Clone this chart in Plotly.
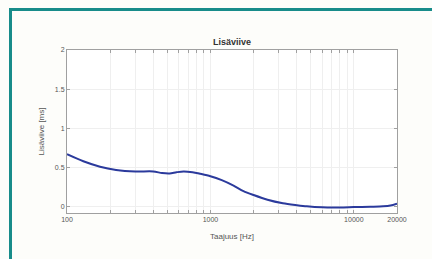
import plotly.graph_objects as go
import math

freq_hz = [100, 130, 170, 220, 300, 400, 460, 520, 580, 650, 750, 850, 1000, 1200,
           1450, 1700, 2000, 2500, 3200, 4000, 4700, 6000, 8000, 10000, 13000, 16000,
           18000, 20000]
delay_ms = [0.67, 0.58, 0.51, 0.47, 0.45, 0.45, 0.43, 0.425, 0.44, 0.45, 0.44, 0.42,
            0.39, 0.34, 0.27, 0.20, 0.15, 0.09, 0.045, 0.02, 0.005, -0.008, -0.01,
            -0.005, 0.0, 0.005, 0.015, 0.04]

x_tick_vals = [100, 200, 300, 400, 500, 600, 700, 800, 900, 1000, 2000, 3000, 4000,
               5000, 6000, 7000, 8000, 9000, 10000, 20000]
x_tick_text = ["100", "", "", "", "", "", "", "", "", "1000", "", "", "", "", "", "",
               "", "", "10000", "20000"]
y_tick_vals = [0, 0.5, 1, 1.5, 2]
y_tick_text = ["0", "0.5", "1", "1.5", "2"]

L, R, T, B = 67, 397, 50, 213
W, H = 432, 259

axis_common = dict(showline=True, linecolor="#a0a0a0", linewidth=1, mirror="ticks",
                   ticks="inside", ticklen=3, tickcolor="#a0a0a0",
                   showgrid=True, gridcolor="#efefef", gridwidth=1, zeroline=False,
                   tickfont=dict(family="Liberation Sans", size=7, color="#555"))

fig = go.Figure()
fig.add_trace(go.Scatter(x=freq_hz, y=delay_ms, mode="lines",
                         line=dict(color="#2b3a9c", width=2, shape="spline", smoothing=0.8),
                         showlegend=False))

pw, ph = R - L, B - T
fig.update_layout(
    width=W, height=H,
    margin=dict(l=L, r=W - R, t=T, b=H - B),
    paper_bgcolor="#fdfdfa", plot_bgcolor="#ffffff",
    title=dict(text="<b>Lisäviive</b>", x=(L + R) / 2 / W, xanchor="center",
               y=1 - 42 / H, yanchor="middle",
               font=dict(family="Liberation Sans", size=9, color="#333")),
    xaxis=dict(type="log", range=[2, math.log10(20000)], tickvals=x_tick_vals,
               ticktext=x_tick_text,
               title=dict(text="Taajuus [Hz]", standoff=10,
                          font=dict(family="Liberation Sans", size=8, color="#555")),
               **axis_common),
    yaxis=dict(range=[-0.08, 2], tickvals=y_tick_vals, ticktext=y_tick_text,
               title=dict(text="Lisäviive [ms]", standoff=9,
                          font=dict(family="Liberation Sans", size=8, color="#555")),
               **axis_common),
    shapes=[dict(type="rect", xref="paper", yref="paper",
                 x0=(10.5 - L) / pw, x1=(445 - L) / pw,
                 y0=(B - 270) / ph, y1=(B - 9.5) / ph,
                 line=dict(color="#188c8a", width=3), layer="below")],
)

fig.write_html("out.html", config={"displayModeBar": False},
               post_script="document.body.style.margin='0';document.body.style.overflow='hidden';")
